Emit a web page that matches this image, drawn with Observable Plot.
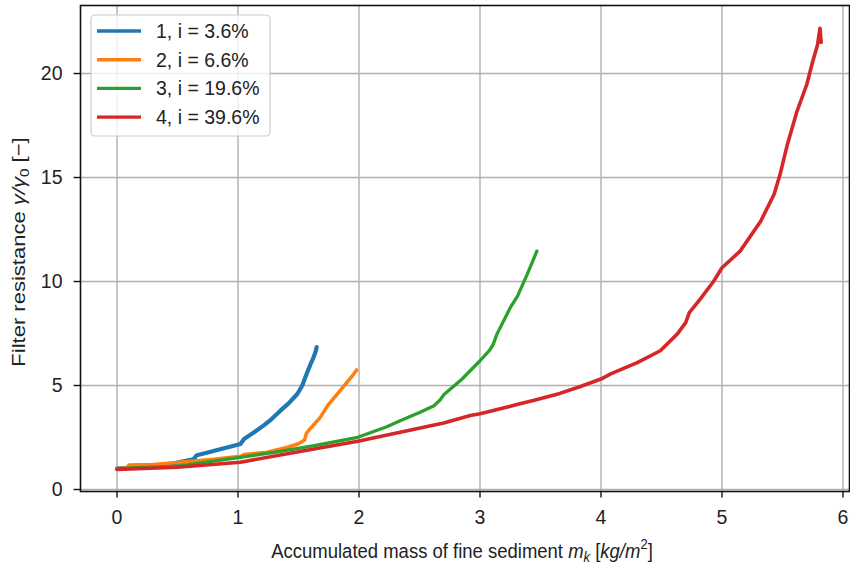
<!DOCTYPE html>
<html>
<head>
<meta charset="utf-8">
<script src="https://cdn.jsdelivr.net/npm/d3@7"></script>
<script src="https://cdn.jsdelivr.net/npm/@observablehq/plot@0.6"></script>
<style>
  html, body { margin: 0; padding: 0; background: #fff; }
  #chart svg { display: block; }
</style>
</head>
<body>
<div id="chart"></div>
<script>
// ---- data ----
const seriesLabels = ["1, i = 3.6%", "2, i = 6.6%", "3, i = 19.6%", "4, i = 39.6%"];
const seriesColors = ["#1f77b4", "#ff7f0e", "#2ca02c", "#d62728"];
const seriesWidths = [4.2, 3.5, 3.3, 3.6];

const x1 = [0, 0.2, 0.44, 0.55, 0.63, 0.66, 0.75, 0.86, 0.95, 1.02, 1.05, 1.12, 1.21, 1.28, 1.35, 1.42, 1.49, 1.53, 1.57, 1.60, 1.62, 1.64, 1.65];
const y1 = [1.0, 1.08, 1.22, 1.35, 1.45, 1.65, 1.78, 1.95, 2.08, 2.19, 2.43, 2.7, 3.07, 3.4, 3.79, 4.15, 4.59, 4.99, 5.6, 6.03, 6.3, 6.6, 6.85];

const x2 = [0.0, 0.08, 0.1, 0.3, 0.52, 0.8, 1.02, 1.05, 1.24, 1.41, 1.5, 1.55, 1.565, 1.585, 1.68, 1.74, 1.82, 1.9, 1.95, 1.98];
const y2 = [1.0, 1.05, 1.18, 1.2, 1.31, 1.45, 1.6, 1.68, 1.79, 2.03, 2.2, 2.38, 2.7, 2.85, 3.47, 4.03, 4.59, 5.15, 5.5, 5.75];

const x3 = [0, 0.5, 1.02, 1.3, 1.63, 1.99, 2.23, 2.34, 2.5, 2.62, 2.67, 2.70, 2.85, 3.0, 3.08, 3.11, 3.14, 3.25, 3.31, 3.39, 3.47];
const y3 = [1.0, 1.12, 1.55, 1.79, 2.11, 2.51, 3.02, 3.31, 3.7, 4.03, 4.3, 4.55, 5.3, 6.19, 6.7, 6.99, 7.47, 8.74, 9.3, 10.34, 11.46];

const x4 = [0, 0.5, 1.02, 1.5, 1.99, 2.34, 2.7, 2.92, 3.0, 3.33, 3.44, 3.66, 3.83, 4.0, 4.08, 4.3, 4.49, 4.63, 4.70, 4.73, 4.82, 4.93, 5.0, 5.15, 5.32, 5.43, 5.48, 5.54, 5.62, 5.70, 5.75, 5.79, 5.81, 5.82];
const y4 = [0.97, 1.07, 1.31, 1.82, 2.32, 2.75, 3.2, 3.56, 3.64, 4.12, 4.28, 4.62, 4.95, 5.31, 5.56, 6.1, 6.67, 7.47, 8.02, 8.5, 9.15, 10.0, 10.66, 11.46, 12.9, 14.18, 15.14, 16.58, 18.18, 19.46, 20.58, 21.38, 22.17, 21.5];

const xTicks = [0, 1, 2, 3, 4, 5, 6];
const yTicks = [0, 5, 10, 15, 20];

// ---- build table ----
const xs = [x1, x2, x3, x4];
const ys = [y1, y2, y3, y4];
const rows = [];
seriesLabels.forEach((s, i) => {
  xs[i].forEach((xv, j) => rows.push({series: s, idx: i, x: xv, y: ys[i][j]}));
});

const FONT = "'Liberation Sans', Arial, Helvetica, sans-serif";

const chart = Plot.plot({
  width: 850,
  height: 564,
  marginLeft: 80,
  marginRight: 1,
  marginTop: 5,
  marginBottom: 73,
  style: {fontFamily: FONT, fontSize: "18px", color: "#222", background: "#fff", overflow: "visible"},
  x: {domain: [-0.302, 6.054]},
  y: {domain: [-0.096, 23.27]},
  color: {domain: seriesLabels, range: seriesColors},
  marks: [
    Plot.gridX(xTicks, {stroke: "#b0b0b0", strokeOpacity: 1, strokeWidth: 1.4}),
    Plot.gridY(yTicks, {stroke: "#b0b0b0", strokeOpacity: 1, strokeWidth: 1.4}),
    ...seriesLabels.map((s, i) => Plot.line(rows.filter(d => d.idx === i), {
      x: "x", y: "y", stroke: "series", strokeWidth: seriesWidths[i],
      strokeLinejoin: "round", strokeLinecap: "round"
    })),
    Plot.frame({stroke: "#111", strokeWidth: 1.6}),
    Plot.axisX(xTicks, {tickSize: 6.5, tickPadding: 12, label: null, tickFormat: d3.format("d"), stroke: "#111", strokeWidth: 1.4, fontSize: 19.5, fill: "#222"}),
    Plot.axisY(yTicks, {tickSize: 6.5, tickPadding: 11.5, label: null, tickFormat: d3.format("d"), stroke: "#111", strokeWidth: 1.4, fontSize: 19.5, fill: "#222"})
  ]
});

document.getElementById("chart").appendChild(chart);

// ---- axis titles and legend as real SVG text ----
const svg = d3.select(chart);

const xl = svg.append("text")
  .attr("transform", "translate(462,558) scale(1,1.12)")
  .attr("text-anchor", "middle")
  .attr("font-family", FONT).attr("font-size", 18.5).attr("fill", "#222");
xl.append("tspan").text("Accumulated mass of fine sediment ");
xl.append("tspan").attr("font-style", "italic").text("m");
xl.append("tspan").attr("font-style", "italic").attr("font-size", 13).attr("dy", 4).text("k");
xl.append("tspan").attr("dy", -4).text(" [");
xl.append("tspan").attr("font-style", "italic").text("kg/m");
xl.append("tspan").attr("font-size", 13).attr("dy", -8).text("2");
xl.append("tspan").attr("dy", 8).text("]");

const yl = svg.append("text")
  .attr("transform", "translate(25,252) rotate(-90) scale(1.19,1)")
  .attr("text-anchor", "middle")
  .attr("font-family", FONT).attr("font-size", 18.5).attr("fill", "#222");
yl.append("tspan").text("Filter resistance ");
yl.append("tspan").attr("font-style", "italic").text("γ/γ");
yl.append("tspan").attr("font-size", 13).attr("dy", 4).text("0");
yl.append("tspan").attr("dy", -4).text(" [−]");

const lg = svg.append("g");
lg.append("rect")
  .attr("x", 91).attr("y", 15).attr("width", 179).attr("height", 121)
  .attr("rx", 4).attr("fill", "#fff").attr("fill-opacity", 0.8)
  .attr("stroke", "#cccccc").attr("stroke-width", 1.2);
seriesLabels.forEach((s, i) => {
  const yy = 31 + i * 28.7;
  lg.append("line").attr("x1", 97).attr("x2", 141).attr("y1", yy).attr("y2", yy)
    .attr("stroke", seriesColors[i]).attr("stroke-width", 3.4);
  lg.append("text").attr("x", 156).attr("y", yy).attr("dy", "0.36em")
    .attr("text-anchor", "start")
    .attr("font-family", FONT).attr("font-size", 19.5).attr("fill", "#222").text(s);
});
</script>
</body>
</html>
